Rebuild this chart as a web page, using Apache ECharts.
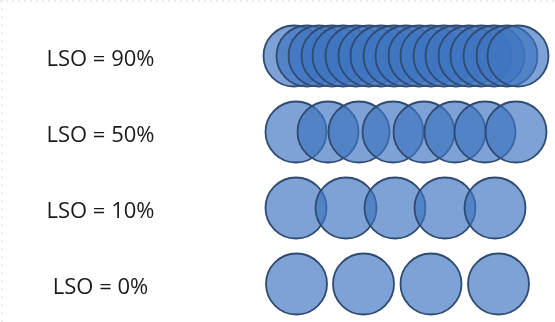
<!DOCTYPE html>
<html>
<head>
<meta charset="utf-8">
<script src="https://cdn.jsdelivr.net/npm/echarts@6/dist/echarts.min.js"></script>
<style>
html, body { margin: 0; padding: 0; background: #ffffff; }
#chart { width: 555px; height: 322px; }
</style>
</head>
<body>
<div id="chart"></div>
<script>
// row labels, top to bottom
const rowLabels = ['LSO = 90%', 'LSO = 50%', 'LSO = 10%', 'LSO = 0%'];

// circle centre positions along each row
const lso90 = [34, 47, 59, 72, 83, 96, 109, 121, 134, 146, 159, 171, 184, 196, 209, 221, 234, 247, 258];
const lso50 = [36, 68, 99, 133, 164, 195, 225, 256];
const lso10 = [36, 86, 135, 185, 235];
const lso0 = [36.5, 103.5, 171, 238.5];

const rows = [lso90, lso50, lso10, lso0];

const chart = echarts.init(document.getElementById('chart'), null, { renderer: 'canvas' });

const series = rows.map((xs, i) => ({
    type: 'scatter',
    name: rowLabels[i],
    symbol: 'circle',
    symbolSize: 61,
    silent: true,
    itemStyle: {
        color: 'rgba(62,117,193,0.67)',
        borderColor: '#2f4b72',
        borderWidth: 1.8,
        opacity: 1
    },
    data: xs.map(x => [x, rowLabels[i]])
}));

const option = {
    backgroundColor: '#ffffff',
    animation: false,
    grid: { left: 260, right: 5, top: 18, bottom: 0 },
    xAxis: {
        type: 'value',
        min: 0,
        max: 290,
        show: false
    },
    yAxis: {
        type: 'category',
        data: rowLabels,
        inverse: true,
        axisLine: { show: false },
        axisTick: { show: false },
        splitLine: { show: false },
        axisLabel: {
            margin: 159.5,
            align: 'center',
            formatter: '{t|{value}}',
            rich: {
                t: {
                    fontFamily: 'Open Sans',
                    fontSize: 22,
                    color: '#1a1a1a',
                    padding: [8, 0, 0, 0]
                }
            }
        }
    },
    graphic: [
        {
            type: 'line',
            shape: { x1: 0, y1: 1, x2: 555, y2: 1 },
            style: { stroke: '#e6e6e6', lineWidth: 1.5, lineDash: [2, 4] },
            silent: true
        },
        {
            type: 'line',
            shape: { x1: 2, y1: 0, x2: 2, y2: 322 },
            style: { stroke: '#e6e6e6', lineWidth: 1.5, lineDash: [2, 6] },
            silent: true
        }
    ],
    series: series
};

chart.setOption(option);
</script>
</body>
</html>
